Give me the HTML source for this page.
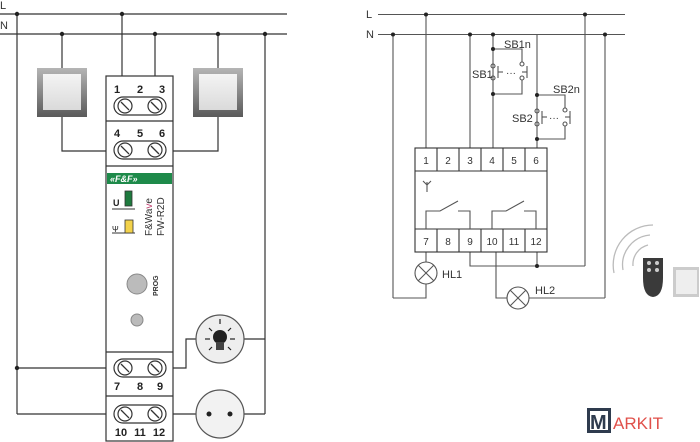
<!DOCTYPE html>
<html><head><meta charset="utf-8"><style>
body{margin:0;background:#fff}
svg{display:block}
text{font-family:"Liberation Sans",sans-serif}
</style></head><body>
<svg width="700" height="442" viewBox="0 0 700 442" xmlns="http://www.w3.org/2000/svg">
<defs>
<linearGradient id="sw" x1="0" y1="0" x2="0" y2="1"><stop offset="0" stop-color="#b5b5b5"/><stop offset="1" stop-color="#5a5a5a"/></linearGradient>
<linearGradient id="swi" x1="0" y1="0" x2="0" y2="1"><stop offset="0" stop-color="#f4f4f4"/><stop offset="1" stop-color="#dadada"/></linearGradient>
<g id="screw"><ellipse cx="0" cy="0" rx="7" ry="7" fill="#fff" stroke="#333" stroke-width="1.2"/><line x1="-4" y1="-4" x2="4" y2="4" stroke="#333" stroke-width="1.3"/></g>
</defs>
<g stroke="#333" stroke-width="1.2" fill="none">
<line x1="0" y1="14" x2="287" y2="14"/>
<line x1="0" y1="34" x2="287" y2="34"/>
<line x1="17" y1="14" x2="17" y2="414"/>
<line x1="17" y1="368" x2="106" y2="368"/>
<line x1="17" y1="414" x2="106" y2="414"/>
<line x1="122" y1="14" x2="122" y2="76"/>
<line x1="155" y1="34" x2="155" y2="76"/>
<line x1="62" y1="34" x2="62" y2="70"/>
<line x1="218" y1="34" x2="218" y2="70"/>
<polyline points="62,115 62,151 106,151"/>
<polyline points="218,115 218,151 173,151"/>
<line x1="265" y1="34" x2="265" y2="414"/>
<polyline points="173,368 186,368 186,339 200,339"/>
<line x1="244" y1="339" x2="265" y2="339"/>
<line x1="173" y1="414" x2="200" y2="414"/>
<line x1="244" y1="414" x2="265" y2="414"/>
</g>
<g fill="#222">
<circle cx="17" cy="14" r="2.2"/><circle cx="122" cy="14" r="2.2"/>
<circle cx="62" cy="34" r="2.2"/><circle cx="155" cy="34" r="2.2"/><circle cx="218" cy="34" r="2.2"/><circle cx="265" cy="34" r="2.2"/>
<circle cx="17" cy="368" r="2.2"/>
</g>
<text x="0" y="9" font-size="11" fill="#333">L</text>
<text x="0" y="29" font-size="11" fill="#333">N</text>
<rect x="37" y="68" width="50" height="49" fill="url(#sw)"/>
<rect x="43" y="74" width="38" height="36" fill="url(#swi)"/>
<rect x="193" y="68" width="50" height="49" fill="url(#sw)"/>
<rect x="199" y="74" width="38" height="36" fill="url(#swi)"/>
<rect x="106" y="76" width="67" height="365" fill="#fff" stroke="#333" stroke-width="1.2"/>
<g stroke="#333" stroke-width="1.2" fill="none">
<line x1="106" y1="121" x2="173" y2="121"/>
<line x1="106" y1="166" x2="173" y2="166"/>
<line x1="106" y1="352" x2="173" y2="352"/>
<line x1="106" y1="396" x2="173" y2="396"/>
<rect x="114" y="97" width="52" height="18" rx="9"/>
<rect x="114" y="141" width="52" height="18" rx="9"/>
<rect x="114" y="359" width="52" height="18" rx="9"/>
<rect x="114" y="405" width="52" height="18" rx="9"/>
</g>
<use href="#screw" x="125" y="106"/><use href="#screw" x="155" y="106"/>
<use href="#screw" x="125" y="150"/><use href="#screw" x="155" y="150"/>
<use href="#screw" x="125" y="368"/><use href="#screw" x="155" y="368"/>
<use href="#screw" x="125" y="414"/><use href="#screw" x="155" y="414"/>
<g font-size="11" font-weight="bold" fill="#222" text-anchor="middle">
<text x="117" y="93">1</text><text x="140" y="93">2</text><text x="162" y="93">3</text>
<text x="117" y="137">4</text><text x="140" y="137">5</text><text x="162" y="137">6</text>
<text x="117" y="390">7</text><text x="140" y="390">8</text><text x="160" y="390">9</text>
<text x="121" y="436">10</text><text x="140" y="436">11</text><text x="159" y="436">12</text>
</g>
<rect x="107" y="173" width="65" height="11" fill="#1e8a4a"/>
<text x="110" y="182" font-size="9" font-weight="bold" font-style="italic" fill="#fff">«F&amp;F»</text>
<text x="113" y="206" font-size="9" font-weight="bold" fill="#222">U</text>
<line x1="112" y1="209" x2="135" y2="209" stroke="#333"/>
<rect x="125" y="191" width="7" height="15" fill="#1e7a3e" stroke="#333" stroke-width="0.8"/>
<text x="112" y="232" font-size="8" fill="#222">Ψ</text>
<line x1="112" y1="233" x2="135" y2="233" stroke="#333"/>
<rect x="125" y="220" width="8" height="13" fill="#f3d24a" stroke="#333" stroke-width="0.8"/>
<text transform="translate(152,236) rotate(-90)" font-size="10" fill="#333">F&amp;Wa<tspan fill="#c04070">v</tspan>e</text>
<text transform="translate(164,236) rotate(-90)" font-size="10" fill="#333">FW-R2D</text>
<circle cx="137" cy="284" r="10" fill="#bbb" stroke="#888"/>
<text transform="translate(158,296) rotate(-90)" font-size="7" font-weight="bold" fill="#333">PROG</text>
<circle cx="137" cy="320" r="6" fill="#bbb" stroke="#888"/>
<circle cx="220" cy="339" r="24" fill="#eee" stroke="#555" stroke-width="1.2"/>
<g stroke="#222" stroke-width="1.2">
<line x1="220" y1="319" x2="220" y2="324"/><line x1="205" y1="339" x2="210" y2="339"/><line x1="230" y1="339" x2="235" y2="339"/>
<line x1="209" y1="328" x2="212" y2="331"/><line x1="231" y1="328" x2="228" y2="331"/>
<line x1="209" y1="350" x2="212" y2="347"/><line x1="231" y1="350" x2="228" y2="347"/>
</g>
<circle cx="220" cy="337" r="7" fill="#222"/>
<rect x="216" y="342" width="8" height="8" fill="#444"/>
<circle cx="220" cy="414" r="24" fill="#f2f2f2" stroke="#555" stroke-width="1.2"/>
<circle cx="209" cy="414" r="2.5" fill="#222"/><circle cx="230" cy="414" r="2.5" fill="#222"/>
<g stroke="#555" stroke-width="1.1" fill="none">
<line x1="378" y1="14.5" x2="625" y2="14.5"/>
<line x1="378" y1="34.5" x2="625" y2="34.5"/>
<line x1="426" y1="14.5" x2="426" y2="148"/>
<line x1="470" y1="34.5" x2="470" y2="148"/>
<line x1="493" y1="34.5" x2="493" y2="148"/>
<line x1="537" y1="34.5" x2="537" y2="148"/>
<polyline points="493,49 522,49 522,62"/><polyline points="522,80 522,94 493,94"/>
<polyline points="537,95 565,95 565,108"/><polyline points="565,126 565,139 537,139"/>
<line x1="393" y1="34.5" x2="393" y2="298"/>
<line x1="585" y1="14.5" x2="585" y2="266"/>
<line x1="605" y1="34.5" x2="605" y2="298"/>
<polyline points="426,252 426,262"/><polyline points="426,284 426,298 393,298"/>
<polyline points="470,252 470,266 585,266"/>
<line x1="537" y1="252" x2="537" y2="266"/>
<polyline points="496,252 496,298 507,298"/><line x1="529" y1="298" x2="605" y2="298"/>
<rect x="415" y="148" width="132" height="104" stroke="#333"/>
<line x1="415" y1="171" x2="547" y2="171" stroke="#333"/>
<line x1="415" y1="229" x2="547" y2="229" stroke="#333"/>
<g stroke="#333"><line x1="437" y1="148" x2="437" y2="171"/><line x1="459" y1="148" x2="459" y2="171"/><line x1="481" y1="148" x2="481" y2="171"/><line x1="503" y1="148" x2="503" y2="171"/><line x1="525" y1="148" x2="525" y2="171"/>
<line x1="437" y1="229" x2="437" y2="252"/><line x1="459" y1="229" x2="459" y2="252"/><line x1="481" y1="229" x2="481" y2="252"/><line x1="503" y1="229" x2="503" y2="252"/><line x1="525" y1="229" x2="525" y2="252"/></g>
<polyline points="426,229 426,211 440,211 458,201"/><polyline points="458,211 470,211 470,229"/>
<polyline points="492,229 492,211 506,211 524,201"/><polyline points="524,211 536,211 536,229"/>
<path d="M427 182 v10 M423 181 l4 4 l4 -4"/>
<circle cx="426" cy="273" r="11"/><line x1="418" y1="265" x2="434" y2="281"/><line x1="434" y1="265" x2="418" y2="281"/>
<circle cx="518" cy="298" r="11"/><line x1="510" y1="290" x2="526" y2="306"/><line x1="526" y1="290" x2="510" y2="306"/>
<circle cx="493" cy="66" r="2"/><circle cx="493" cy="78" r="2"/>
<line x1="498" y1="66" x2="498" y2="78"/><line x1="498" y1="72" x2="503" y2="72"/>
<circle cx="522" cy="64" r="2"/><circle cx="522" cy="78" r="2"/>
<line x1="527" y1="66" x2="527" y2="78"/><line x1="522" y1="72" x2="527" y2="72"/>
<circle cx="537" cy="111" r="2"/><circle cx="537" cy="124" r="2"/>
<line x1="542" y1="111" x2="542" y2="124"/><line x1="542" y1="117" x2="547" y2="117"/>
<circle cx="565" cy="110" r="2"/><circle cx="565" cy="124" r="2"/>
<line x1="570" y1="111" x2="570" y2="124"/><line x1="565" y1="117" x2="570" y2="117"/>
</g>
<g fill="#333"><text x="506" y="76" font-size="10">···</text><text x="549" y="121" font-size="10">···</text></g>
<g fill="#222">
<circle cx="426" cy="14.5" r="2"/><circle cx="585" cy="14.5" r="2"/>
<circle cx="393" cy="34.5" r="2"/><circle cx="470" cy="34.5" r="2"/><circle cx="493" cy="34.5" r="2"/><circle cx="605" cy="34.5" r="2"/>
<circle cx="493" cy="49" r="2"/><circle cx="493" cy="94" r="2"/><circle cx="537" cy="95" r="2"/><circle cx="537" cy="139" r="2"/><circle cx="537" cy="266" r="2"/>
</g>
<g font-size="11" fill="#333">
<text x="366" y="18">L</text><text x="366" y="38">N</text>
<text x="504" y="48">SB1n</text><text x="472" y="78">SB1</text>
<text x="553" y="93">SB2n</text><text x="512" y="122">SB2</text>
<text x="442" y="278">HL1</text><text x="535" y="294">HL2</text>
</g>
<g font-size="10" fill="#333" text-anchor="middle">
<text x="426" y="164">1</text><text x="448" y="164">2</text><text x="470" y="164">3</text><text x="492" y="164">4</text><text x="514" y="164">5</text><text x="536" y="164">6</text>
<text x="426" y="245">7</text><text x="448" y="245">8</text><text x="470" y="245">9</text><text x="492" y="245">10</text><text x="514" y="245">11</text><text x="536" y="245">12</text>
</g>
<g stroke="#bbb" stroke-width="1.3" fill="none">
<path d="M653 225 A40 40 0 0 0 614 273"/>
<path d="M650 235 A30 30 0 0 0 623 270"/>
<path d="M648 245 A20 20 0 0 0 633 266"/>
</g>
<path d="M643 258 h20 v20 q0 18 -10 19 q-10 -1 -10 -19 z" fill="#3a3a3a"/>
<circle cx="649" cy="263" r="2" fill="#ccc"/><circle cx="657" cy="263" r="2" fill="#ccc"/><circle cx="649" cy="270" r="2" fill="#ccc"/><circle cx="657" cy="270" r="2" fill="#ccc"/>
<rect x="673" y="267" width="26" height="30" fill="#ccc"/><rect x="676" y="270" width="21" height="24" fill="#eee"/>
<rect x="587" y="408" width="24" height="25" fill="#2e3b4e"/><rect x="590" y="411" width="18" height="19" fill="#fff"/>
<text x="590" y="429" font-size="20" font-weight="bold" fill="#2e3b4e">M</text>
<text x="613" y="429" font-size="17" fill="#e0504a">ARKIT</text>
</svg>
</body></html>
